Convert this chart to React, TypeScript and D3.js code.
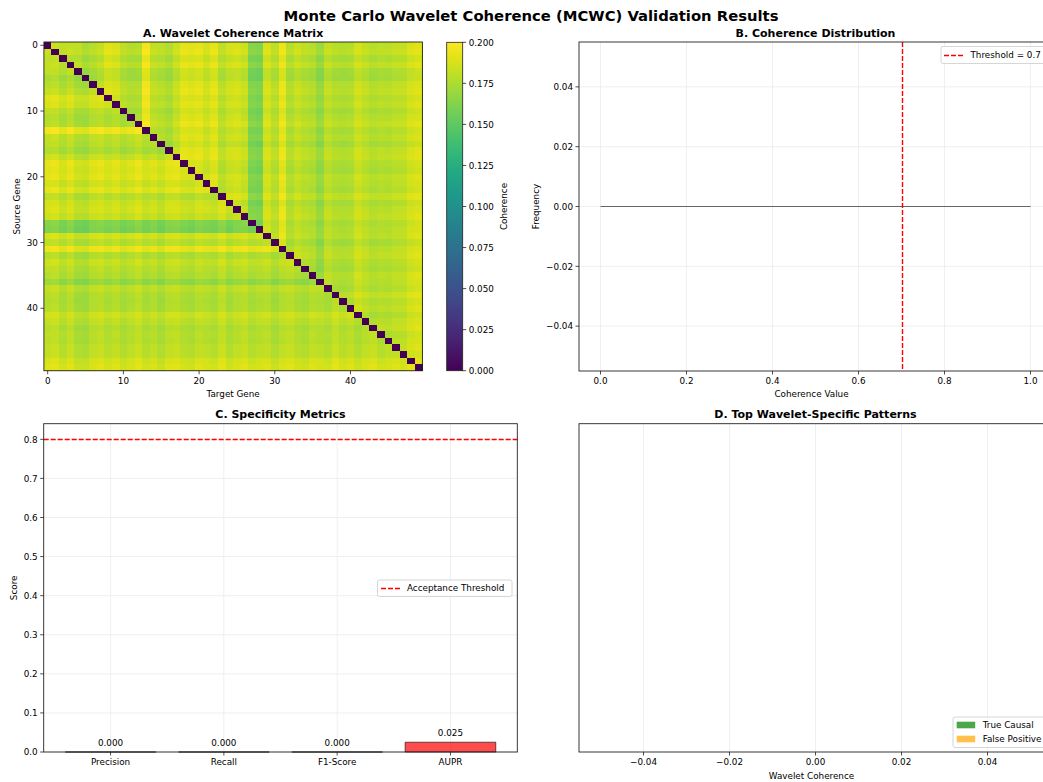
import React from "react";
import * as d3 from "d3";

// ---------- DATA ----------
// Per-gene coherence profile (dominant effect, indexed by the larger of source/target)
const geneProfile = [
  0.180, 0.182, 0.178, 0.180, 0.178, 0.172, 0.176, 0.180, 0.188, 0.186,
  0.178, 0.175, 0.176, 0.194, 0.180, 0.178, 0.174, 0.182, 0.190, 0.188,
  0.190, 0.184, 0.190, 0.178, 0.184, 0.186, 0.182, 0.162, 0.160, 0.186,
  0.178, 0.192, 0.176, 0.182, 0.178, 0.176, 0.168, 0.180, 0.176, 0.175,
  0.176, 0.184, 0.180, 0.176, 0.178, 0.177, 0.180, 0.180, 0.186, 0.188,
];
// Secondary per-gene offset (indexed by the smaller of source/target)
const partnerOffset = [
  0.002, 0.004, -0.002, 0.003, -0.004, -0.005, 0.001, 0.003, -0.001, 0.002,
  -0.003, 0.000, 0.004, -0.002, 0.001, -0.004, 0.002, 0.003, -0.001, -0.003,
  0.002, 0.000, -0.002, 0.004, -0.003, 0.001, 0.003, -0.002, 0.000, 0.002,
  -0.004, 0.001, 0.003, -0.001, -0.003, 0.002, 0.000, -0.002, 0.004, -0.001,
  0.002, -0.003, 0.001, 0.003, -0.002, 0.000, 0.002, -0.001, 0.003, 0.000,
];
const nGenes = 50;
const heatTicks = [0, 10, 20, 30, 40];
const cbarTicks = [0, 0.025, 0.05, 0.075, 0.1, 0.125, 0.15, 0.175, 0.2];

const distXTicks = [0, 0.2, 0.4, 0.6, 0.8, 1.0];
const distYTicks = [-0.04, -0.02, 0, 0.02, 0.04];
const distLine = [0, 1]; // empty histogram outline from 0 to 1 at frequency 0
const coherenceThreshold = 0.7;

const metricNames = ["Precision", "Recall", "F1-Score", "AUPR"];
const metricValues = [0.0, 0.0, 0.0, 0.025];
const metricYTicks = [0, 0.1, 0.2, 0.3, 0.4, 0.5, 0.6, 0.7, 0.8];
const acceptanceThreshold = 0.8;

const patternXTicks = [-0.04, -0.02, 0, 0.02, 0.04];
const patternLegend = [
  { label: "True Causal", color: "rgba(0,128,0,0.7)" },
  { label: "False Positive", color: "rgba(255,165,0,0.7)" },
];

const FONT = "DejaVu Sans, Liberation Sans, sans-serif";
const TICK = 8.8;
const TITLE = 11;
const GRID = "#ebebeb";
const SPINE = "#222";
const RED = "#ff0000";

function fmtMinus(s: string) {
  return s.replace("-", "\u2212");
}

export default function App() {
  const W = 1043, H = 782;

  // Panel A geometry
  const A = { x0: 43.9, x1: 422.4, y0: 42, y1: 370.75 };
  const hx = d3.scaleLinear().domain([-0.5, nGenes - 0.5]).range([A.x0, A.x1]);
  const hy = d3.scaleLinear().domain([-0.5, nGenes - 0.5]).range([A.y0, A.y1]);
  const color = d3.scaleSequential(d3.interpolateViridis).domain([0, 0.2]);
  const cells: { i: number; j: number; v: number }[] = [];
  for (let i = 0; i < nGenes; i++) {
    for (let j = 0; j < nGenes; j++) {
      const v = i === j ? 0 : geneProfile[Math.max(i, j)] + partnerOffset[Math.min(i, j)];
      cells.push({ i, j, v });
    }
  }
  const cw = hx(1) - hx(0);
  const ch = hy(1) - hy(0);

  const CB = { x0: 446.7, x1: 462.7, y0: 42.3, y1: 370.7 };
  const cby = d3.scaleLinear().domain([0, 0.2]).range([CB.y1, CB.y0]);
  const gradStops = d3.range(0, 1.0001, 0.05);

  // Panel B
  const B = { x0: 579, x1: 1052, y0: 42, y1: 371 };
  const bx = d3.scaleLinear().domain([-0.05, 1.05]).range([B.x0, B.x1]);
  const by = d3.scaleLinear().domain([-0.055, 0.055]).range([B.y1, B.y0]);
  const lineGen = d3.line<number>().x((d) => bx(d)).y(() => by(0));

  // Panel C
  const C = { x0: 43.7, x1: 517.3, y0: 423.7, y1: 752 };
  const cx = d3.scaleLinear().domain([-0.59, metricNames.length - 1 + 0.59]).range([C.x0, C.x1]);
  const cy = d3.scaleLinear().domain([0, 0.84]).range([C.y1, C.y0]);
  const barW = 0.8;

  // Panel D
  const D = { x0: 579, x1: 1052, y0: 423.7, y1: 752 };
  const dx = d3.scaleLinear().domain([-0.055, 0.055]).range([D.x0, D.x1]);

  const tickLen = 3.5;

  return (
    <svg width={W} height={H} style={{ position: "absolute", left: 0, top: 0, background: "#fff" }} fontFamily={FONT}>
      <defs>
        <linearGradient id="viridisGrad" x1="0" y1="1" x2="0" y2="0">
          {gradStops.map((t) => (
            <stop key={t} offset={`${t * 100}%`} stopColor={d3.interpolateViridis(t)} />
          ))}
        </linearGradient>
      </defs>
      <rect x={0} y={0} width={W} height={H} fill="#fff" />

      <text x={531} y={21} textAnchor="middle" fontSize={14.8} fontWeight="bold" fill="#000">
        Monte Carlo Wavelet Coherence (MCWC) Validation Results
      </text>

      {/* ---------- Panel A ---------- */}
      <text x={(A.x0 + A.x1) / 2} y={36.5} textAnchor="middle" fontSize={TITLE} fontWeight="bold">
        A. Wavelet Coherence Matrix
      </text>
      <g shapeRendering="crispEdges">
        {cells.map((c) => (
          <rect key={`${c.i}-${c.j}`} x={hx(c.j - 0.5)} y={hy(c.i - 0.5)} width={cw + 0.3} height={ch + 0.3} fill={color(c.v)} />
        ))}
      </g>
      <rect x={A.x0} y={A.y0} width={A.x1 - A.x0} height={A.y1 - A.y0} fill="none" stroke={SPINE} strokeWidth={0.9} />
      {heatTicks.map((t) => (
        <g key={`ax${t}`}>
          <line x1={hx(t)} x2={hx(t)} y1={A.y1} y2={A.y1 + tickLen} stroke={SPINE} strokeWidth={0.8} />
          <text x={hx(t)} y={A.y1 + 13} textAnchor="middle" fontSize={TICK}>{t}</text>
          <line x1={A.x0} x2={A.x0 - tickLen} y1={hy(t)} y2={hy(t)} stroke={SPINE} strokeWidth={0.8} />
          <text x={A.x0 - 6} y={hy(t) + 3.2} textAnchor="end" fontSize={TICK}>{t}</text>
        </g>
      ))}
      <text x={(A.x0 + A.x1) / 2} y={397} textAnchor="middle" fontSize={TICK}>Target Gene</text>
      <text transform={`translate(19.5,${(A.y0 + A.y1) / 2}) rotate(-90)`} textAnchor="middle" fontSize={TICK}>Source Gene</text>

      {/* Colorbar */}
      <rect x={CB.x0} y={CB.y0} width={CB.x1 - CB.x0} height={CB.y1 - CB.y0} fill="url(#viridisGrad)" stroke={SPINE} strokeWidth={0.8} />
      {cbarTicks.map((t) => (
        <g key={`cb${t}`}>
          <line x1={CB.x1} x2={CB.x1 + tickLen} y1={cby(t)} y2={cby(t)} stroke={SPINE} strokeWidth={0.8} />
          <text x={CB.x1 + 6} y={cby(t) + 3.2} fontSize={TICK}>{t.toFixed(3)}</text>
        </g>
      ))}
      <text transform={`translate(507,${(CB.y0 + CB.y1) / 2}) rotate(-90)`} textAnchor="middle" fontSize={TICK}>Coherence</text>

      {/* ---------- Panel B ---------- */}
      <text x={(B.x0 + 1052) / 2} y={36.5} textAnchor="middle" fontSize={TITLE} fontWeight="bold">
        B. Coherence Distribution
      </text>
      {distXTicks.map((t) => (
        <line key={`bgx${t}`} x1={bx(t)} x2={bx(t)} y1={B.y0} y2={B.y1} stroke={GRID} strokeWidth={0.8} />
      ))}
      {distYTicks.map((t) => (
        <line key={`bgy${t}`} x1={B.x0} x2={B.x1} y1={by(t)} y2={by(t)} stroke={GRID} strokeWidth={0.8} />
      ))}
      <path d={lineGen(distLine) || ""} stroke="#666" strokeWidth={1} fill="none" />
      <line x1={Math.round(bx(coherenceThreshold)) + 0.5} x2={Math.round(bx(coherenceThreshold)) + 0.5} y1={B.y0} y2={B.y1} stroke={RED} strokeWidth={1.4} strokeDasharray="5,2" />
      <rect x={B.x0} y={B.y0} width={B.x1 - B.x0} height={B.y1 - B.y0} fill="none" stroke={SPINE} strokeWidth={0.9} />
      {distXTicks.map((t) => (
        <g key={`bx${t}`}>
          <line x1={bx(t)} x2={bx(t)} y1={B.y1} y2={B.y1 + tickLen} stroke={SPINE} strokeWidth={0.8} />
          <text x={bx(t)} y={B.y1 + 13} textAnchor="middle" fontSize={TICK}>{t.toFixed(1)}</text>
        </g>
      ))}
      {distYTicks.map((t) => (
        <g key={`by${t}`}>
          <line x1={B.x0} x2={B.x0 - tickLen} y1={by(t)} y2={by(t)} stroke={SPINE} strokeWidth={0.8} />
          <text x={B.x0 - 6} y={by(t) + 3.2} textAnchor="end" fontSize={TICK}>{fmtMinus(t.toFixed(2))}</text>
        </g>
      ))}
      <text x={(B.x0 + B.x1) / 2 - 4} y={397} textAnchor="middle" fontSize={TICK}>Coherence Value</text>
      <text transform={`translate(539,${(B.y0 + B.y1) / 2}) rotate(-90)`} textAnchor="middle" fontSize={TICK}>Frequency</text>
      <g>
        <rect x={941} y={46.5} width={120} height={17} fill="#fff" fillOpacity={0.8} stroke="#ccc" strokeWidth={0.8} rx={2} />
        <line x1={944} x2={963} y1={55.5} y2={55.5} stroke={RED} strokeWidth={1.4} strokeDasharray="5,2" />
        <text x={970.5} y={58.2} fontSize={TICK}>Threshold = 0.7</text>
      </g>

      {/* ---------- Panel C ---------- */}
      <text x={(C.x0 + C.x1) / 2} y={418} textAnchor="middle" fontSize={TITLE} fontWeight="bold">
        C. Specificity Metrics
      </text>
      {metricNames.map((_, i) => (
        <line key={`cgx${i}`} x1={cx(i)} x2={cx(i)} y1={C.y0} y2={C.y1} stroke={GRID} strokeWidth={0.8} />
      ))}
      {metricYTicks.map((t) => (
        <line key={`cgy${t}`} x1={C.x0} x2={C.x1} y1={cy(t)} y2={cy(t)} stroke={GRID} strokeWidth={0.8} />
      ))}
      {metricValues.map((v, i) => {
        const x0 = cx(i - barW / 2), x1 = cx(i + barW / 2);
        return (
          <g key={`bar${i}`}>
            <path d={`M${x0},${cy(0)}V${cy(v)}H${x1}V${cy(0)}Z`} fill="rgba(255,0,0,0.7)" stroke="rgba(0,0,0,0.6)" strokeWidth={1} />
            <text x={cx(i)} y={cy(v) - 6} textAnchor="middle" fontSize={TICK}>{v.toFixed(3)}</text>
          </g>
        );
      })}
      <line x1={C.x0} x2={C.x1} y1={Math.round(cy(acceptanceThreshold)) + 0.5} y2={Math.round(cy(acceptanceThreshold)) + 0.5} stroke={RED} strokeWidth={1.4} strokeDasharray="5,2" />
      <rect x={C.x0} y={C.y0} width={C.x1 - C.x0} height={C.y1 - C.y0} fill="none" stroke={SPINE} strokeWidth={0.9} />
      {metricNames.map((n, i) => (
        <g key={`cx${i}`}>
          <line x1={cx(i)} x2={cx(i)} y1={C.y1} y2={C.y1 + tickLen} stroke={SPINE} strokeWidth={0.8} />
          <text x={cx(i)} y={C.y1 + 13} textAnchor="middle" fontSize={TICK}>{n}</text>
        </g>
      ))}
      {metricYTicks.map((t) => (
        <g key={`cy${t}`}>
          <line x1={C.x0} x2={C.x0 - tickLen} y1={cy(t)} y2={cy(t)} stroke={SPINE} strokeWidth={0.8} />
          <text x={C.x0 - 6} y={cy(t) + 3.2} textAnchor="end" fontSize={TICK}>{t.toFixed(1)}</text>
        </g>
      ))}
      <text transform={`translate(17,${(C.y0 + C.y1) / 2}) rotate(-90)`} textAnchor="middle" fontSize={TICK}>Score</text>
      <g>
        <rect x={377.5} y={580} width={134.5} height={16.5} fill="#fff" fillOpacity={0.8} stroke="#ccc" strokeWidth={0.8} rx={2} />
        <line x1={381} x2={400} y1={588.5} y2={588.5} stroke={RED} strokeWidth={1.4} strokeDasharray="5,2" />
        <text x={407} y={591.2} fontSize={TICK}>Acceptance Threshold</text>
      </g>

      {/* ---------- Panel D ---------- */}
      <text x={(D.x0 + 1052) / 2} y={418} textAnchor="middle" fontSize={TITLE} fontWeight="bold">
        D. Top Wavelet-Specific Patterns
      </text>
      {patternXTicks.map((t) => (
        <line key={`dgx${t}`} x1={dx(t)} x2={dx(t)} y1={D.y0} y2={D.y1} stroke={GRID} strokeWidth={0.8} />
      ))}
      <rect x={D.x0} y={D.y0} width={D.x1 - D.x0} height={D.y1 - D.y0} fill="none" stroke={SPINE} strokeWidth={0.9} />
      {patternXTicks.map((t) => (
        <g key={`dx${t}`}>
          <line x1={dx(t)} x2={dx(t)} y1={D.y1} y2={D.y1 + tickLen} stroke={SPINE} strokeWidth={0.8} />
          <text x={dx(t)} y={D.y1 + 13} textAnchor="middle" fontSize={TICK}>{fmtMinus(t.toFixed(2))}</text>
        </g>
      ))}
      <text x={(D.x0 + D.x1) / 2 - 4} y={779} textAnchor="middle" fontSize={TICK}>Wavelet Coherence</text>
      <g>
        <rect x={953} y={717} width={120} height={30.5} fill="#fff" fillOpacity={0.8} stroke="#ccc" strokeWidth={0.8} rx={2} />
        {patternLegend.map((l, k) => (
          <g key={l.label}>
            <rect x={956.7} y={721.7 + k * 14} width={18.5} height={6.6} fill={l.color} />
            <text x={982.7} y={728.3 + k * 14} fontSize={TICK}>{l.label}</text>
          </g>
        ))}
      </g>
    </svg>
  );
}
